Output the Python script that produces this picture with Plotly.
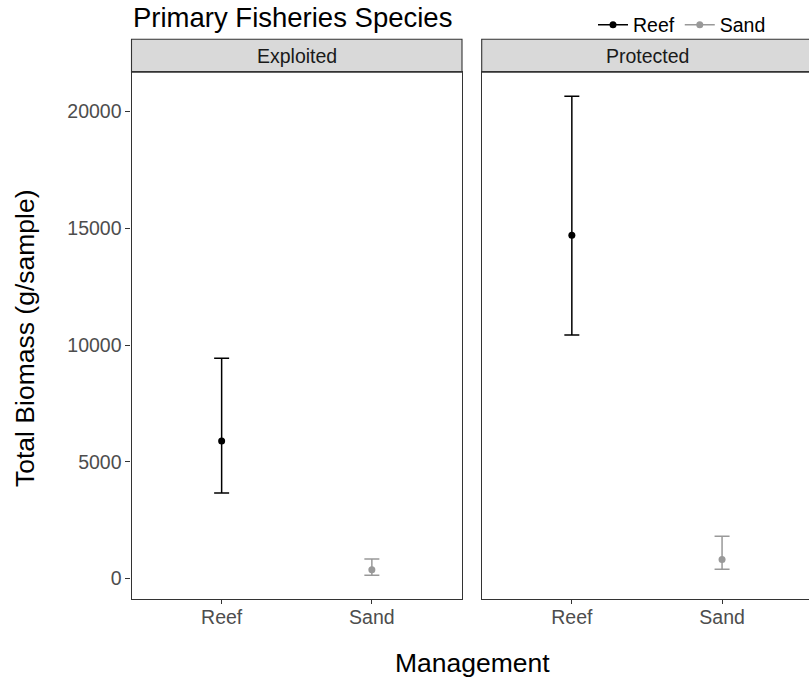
import plotly.graph_objects as go

# ---- data -------------------------------------------------------------
habitats = ["Reef", "Sand"]
panels = ["Exploited", "Protected"]

# mean total biomass (g/sample) and interval bounds, per panel, per habitat
reef_mean = [5890, 14700]
reef_lower = [3655, 10430]
reef_upper = [9430, 20660]

sand_mean = [375, 805]
sand_lower = [130, 395]
sand_upper = [830, 1800]

colors = {"Reef": "#000000", "Sand": "#999999"}

# ---- canvas geometry (pixels) ----------------------------------------
W, H = 809, 682
FONT = "Liberation Sans, Arial, sans-serif"


def px_x(v):
    return v / W


def px_y(v):
    return 1 - v / H


left_dom = [px_x(131.5), px_x(462.0)]
right_dom = [px_x(481.7), 1.0]
y_dom = [px_y(599.3), px_y(72.3)]
strip_top, strip_bot = 39.3, 72.3

# y range: data extent with 5% padding on both sides
all_vals = reef_lower + reef_upper + sand_lower + sand_upper
lo, hi = min(all_vals), max(all_vals)
pad = 0.05 * (hi - lo)
y_range = [lo - pad, hi + pad]

fig = go.Figure()

series = [
    ("Reef", reef_mean, reef_lower, reef_upper),
    ("Sand", sand_mean, sand_lower, sand_upper),
]
for p_idx, panel in enumerate(panels):
    xa = "x" if p_idx == 0 else "x2"
    ya = "y" if p_idx == 0 else "y2"
    for name, mean, lower, upper in series:
        fig.add_trace(
            go.Scatter(
                x=[name],
                y=[mean[p_idx]],
                xaxis=xa,
                yaxis=ya,
                mode="lines+markers",
                name=name,
                legendgroup=name,
                showlegend=(p_idx == 0),
                marker=dict(color=colors[name], size=7),
                line=dict(color=colors[name], width=1.5),
                error_y=dict(
                    type="data",
                    symmetric=False,
                    array=[upper[p_idx] - mean[p_idx]],
                    arrayminus=[mean[p_idx] - lower[p_idx]],
                    color=colors[name],
                    thickness=1.5,
                    width=7.5,
                ),
                hoverinfo="skip",
            )
        )

axis_line = "#333333"
tick_font = dict(family=FONT, size=19.5, color="#4D4D4D")

common_x = dict(
    type="category",
    categoryorder="array",
    categoryarray=habitats,
    showgrid=False,
    zeroline=False,
    showline=True,
    linecolor=axis_line,
    linewidth=1.1,
    ticks="outside",
    ticklen=4,
    tickwidth=1.1,
    tickcolor=axis_line,
    tickfont=tick_font,
    ticklabelstandoff=-4,
    mirror=True,
)

# right panel keeps the same pixel spacing per category as the left one
unit_px = (462.0 - 131.5) / 2.2
right_range = [-0.6, -0.6 + (W - 481.7) / unit_px]

fig.update_layout(
    width=W,
    height=H,
    margin=dict(l=0, r=0, t=0, b=0),
    paper_bgcolor="white",
    plot_bgcolor="white",
    font=dict(family=FONT, color="#000000"),
    xaxis=dict(common_x, domain=left_dom, anchor="y", range=[-0.6, 1.6]),
    xaxis2=dict(common_x, domain=right_dom, anchor="y2", range=right_range),
    yaxis=dict(
        domain=y_dom,
        anchor="x",
        range=y_range,
        tickvals=[0, 5000, 10000, 15000, 20000],
        ticktext=["0", "5000", "10000", "15000", "20000"],
        showgrid=False,
        zeroline=False,
        showline=True,
        linecolor=axis_line,
        linewidth=1.1,
        mirror=True,
        ticks="outside",
        ticklen=5,
        tickwidth=1.1,
        tickcolor=axis_line,
        tickfont=tick_font,
    ),
    yaxis2=dict(
        domain=y_dom,
        anchor="x2",
        range=y_range,
        matches="y",
        showgrid=False,
        zeroline=False,
        showline=True,
        linecolor=axis_line,
        linewidth=1.1,
        mirror=False,
        ticks="",
        showticklabels=False,
    ),
    showlegend=True,
    legend=dict(
        orientation="h",
        x=px_x(593),
        xanchor="left",
        y=px_y(25),
        yanchor="middle",
        font=dict(family=FONT, size=19.5, color="#000000"),
        bgcolor="rgba(0,0,0,0)",
        itemwidth=30,
        tracegroupgap=0,
    ),
)

# facet strips
shapes = []
shapes.append(dict(type="rect", xref="paper", yref="paper",
                   x0=left_dom[0], x1=left_dom[1],
                   y0=px_y(strip_bot), y1=px_y(strip_top),
                   fillcolor="#D9D9D9", line=dict(color=axis_line, width=1.1),
                   layer="below"))
shapes.append(dict(type="rect", xref="paper", yref="paper",
                   x0=right_dom[0], x1=px_x(W + 5),
                   y0=px_y(strip_bot), y1=px_y(strip_top),
                   fillcolor="#D9D9D9", line=dict(color=axis_line, width=1.1),
                   layer="below"))
fig.update_layout(shapes=shapes)

annotations = [
    dict(text="Exploited", x=(left_dom[0] + left_dom[1]) / 2,
         y=px_y((strip_top + strip_bot) / 2)),
    dict(text="Protected", x=px_x(647), y=px_y((strip_top + strip_bot) / 2)),
]
for a in annotations:
    a.update(xref="paper", yref="paper", showarrow=False,
             xanchor="center", yanchor="middle",
             font=dict(family=FONT, size=19.5, color="#1A1A1A"))

annotations.append(dict(text="Primary Fisheries Species", xref="paper", yref="paper",
                        x=px_x(131), y=px_y(18), xanchor="left", yanchor="middle",
                        showarrow=False, font=dict(family=FONT, size=27.5, color="#000000")))
annotations.append(dict(text="Management", xref="paper", yref="paper",
                        x=px_x(472), y=px_y(663), xanchor="center", yanchor="middle",
                        showarrow=False, font=dict(family=FONT, size=26.5, color="#000000")))
annotations.append(dict(text="Total Biomass (g/sample)", xref="paper", yref="paper",
                        x=px_x(25), y=px_y(338), xanchor="center", yanchor="middle",
                        textangle=-90, showarrow=False,
                        font=dict(family=FONT, size=26.5, color="#000000")))
fig.update_layout(annotations=annotations)

fig.write_html("out.html")
